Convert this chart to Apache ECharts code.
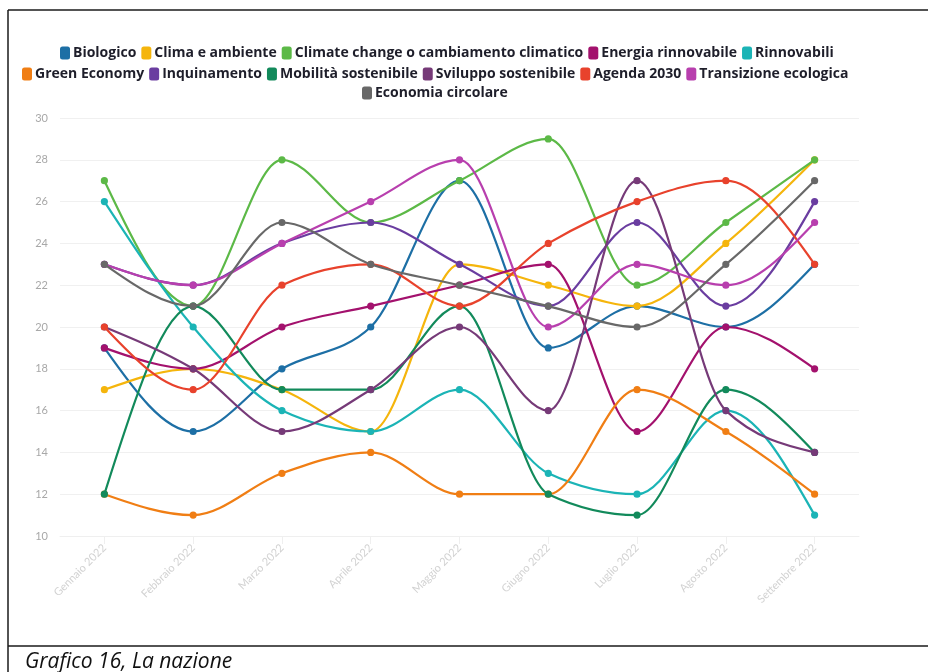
<!DOCTYPE html>
<html>
<head>
<meta charset="utf-8">
<script src="https://cdn.jsdelivr.net/npm/echarts@6/dist/echarts.min.js"></script>
<style>
  html, body { margin: 0; padding: 0; background: #fff; }
  #chart { width: 928px; height: 672px; }
</style>
</head>
<body>
<div id="chart"></div>
<script>
// Months on the x axis
const months = ['Gennaio 2022', 'Febbraio 2022', 'Marzo 2022', 'Aprile 2022', 'Maggio 2022',
  'Giugno 2022', 'Luglio 2022', 'Agosto 2022', 'Settembre 2022'];

// Monthly values per keyword
const biologico = [19, 15, 18, 20, 27, 19, 21, 20, 23];
const climaAmbiente = [17, 18, 17, 15, 23, 22, 21, 24, 28];
const climateChange = [27, 21, 28, 25, 27, 29, 22, 25, 28];
const energiaRinnovabile = [19, 18, 20, 21, 22, 23, 15, 20, 18];
const rinnovabili = [26, 20, 16, 15, 17, 13, 12, 16, 11];
const greenEconomy = [12, 11, 13, 14, 12, 12, 17, 15, 12];
const inquinamento = [23, 22, 24, 25, 23, 21, 25, 21, 26];
const mobilita = [12, 21, 17, 17, 21, 12, 11, 17, 14];
const sviluppo = [20, 18, 15, 17, 20, 16, 27, 16, 14];
const agenda2030 = [20, 17, 22, 23, 21, 24, 26, 27, 23];
const transizione = [23, 22, 24, 26, 28, 20, 23, 22, 25];
const economiaCircolare = [23, 21, 25, 23, 22, 21, 20, 23, 27];

// Y axis ticks
const yMin = 10, yMax = 30, yStep = 2;

const seriesDefs = [
  { name: 'Biologico', values: biologico, color: '#1d6fa5' },
  { name: 'Clima e ambiente', values: climaAmbiente, color: '#f5b50c' },
  { name: 'Climate change o cambiamento climatico', values: climateChange, color: '#5cb947' },
  { name: 'Energia rinnovabile', values: energiaRinnovabile, color: '#a3116d' },
  { name: 'Rinnovabili', values: rinnovabili, color: '#1bb4b6' },
  { name: 'Green Economy', values: greenEconomy, color: '#f07e14' },
  { name: 'Inquinamento', values: inquinamento, color: '#6a3da0' },
  { name: 'Mobilità sostenibile', values: mobilita, color: '#128a5b' },
  { name: 'Sviluppo sostenibile', values: sviluppo, color: '#763a78' },
  { name: 'Agenda 2030', values: agenda2030, color: '#e8422c' },
  { name: 'Transizione ecologica', values: transizione, color: '#b83fae' },
  { name: 'Economia circolare', values: economiaCircolare, color: '#686868' }
];

// Monotone cubic tangents in pixel space (no overshoot, flat between equal values)
function monotoneTangents(pts) {
  const n = pts.length;
  const t = new Array(n).fill(0);
  const sign = v => (v > 0 ? 1 : v < 0 ? -1 : 0);
  for (let i = 1; i < n - 1; i++) {
    const h0 = pts[i][0] - pts[i - 1][0];
    const h1 = pts[i + 1][0] - pts[i][0];
    const s0 = (pts[i][1] - pts[i - 1][1]) / h0;
    const s1 = (pts[i + 1][1] - pts[i][1]) / h1;
    const p = (s0 * h1 + s1 * h0) / (h0 + h1);
    t[i] = (sign(s0) + sign(s1)) * Math.min(Math.abs(s0), Math.abs(s1), 0.5 * Math.abs(p)) || 0;
  }
  if (n > 2) {
    const hA = pts[1][0] - pts[0][0];
    t[0] = (3 * (pts[1][1] - pts[0][1]) / hA - t[1]) / 2;
    const hB = pts[n - 1][0] - pts[n - 2][0];
    t[n - 1] = (3 * (pts[n - 1][1] - pts[n - 2][1]) / hB - t[n - 2]) / 2;
  }
  return t;
}

function makeSeries(def) {
  return {
    name: def.name,
    type: 'custom',
    coordinateSystem: 'cartesian2d',
    itemStyle: { color: def.color },
    encode: { x: 0, y: 1 },
    data: def.values.map((v, i) => [i, v]),
    renderItem: function (params, api) {
      const i = params.dataIndex;
      const pts = def.values.map((v, k) => api.coord([k, v]));
      const tan = monotoneTangents(pts);
      const children = [];
      if (i < pts.length - 1) {
        const p0 = pts[i], p1 = pts[i + 1];
        const dx = (p1[0] - p0[0]) / 3;
        children.push({
          type: 'bezierCurve',
          shape: {
            x1: p0[0], y1: p0[1],
            cpx1: p0[0] + dx, cpy1: p0[1] + dx * tan[i],
            cpx2: p1[0] - dx, cpy2: p1[1] - dx * tan[i + 1],
            x2: p1[0], y2: p1[1]
          },
          style: { stroke: def.color, fill: null, lineWidth: 2.2, lineCap: 'round' }
        });
      }
      children.push({
        type: 'circle',
        shape: { cx: pts[i][0], cy: pts[i][1], r: 3.6 },
        style: { fill: def.color, stroke: null }
      });
      return { type: 'group', children: children };
    }
  };
}

// Legend split over three rows
const legendRows = [
  seriesDefs.slice(0, 5).map(d => d.name),
  seriesDefs.slice(5, 11).map(d => d.name),
  seriesDefs.slice(11).map(d => d.name)
];
const legendTops = [41, 62, 81];
const legendLefts = [55, 17, 357];

const legendBase = {
  orient: 'horizontal',
  icon: 'roundRect',
  itemWidth: 10,
  itemHeight: 13,
  itemGap: 5,
  selectedMode: false,
  textStyle: { color: '#1e1e2a', fontWeight: 'bold', fontSize: 14, fontFamily: 'Open Sans', padding: [0, 0, 0, -2] }
};

const chart = echarts.init(document.getElementById('chart'), null, { renderer: 'canvas' });
chart.setOption({
  animation: false,
  backgroundColor: '#ffffff',
  color: seriesDefs.map(d => d.color),
  legend: legendRows.map((row, r) => Object.assign({}, legendBase, {
    data: row, top: legendTops[r], left: legendLefts[r]
  })),
  grid: { left: 60, right: 69, top: 118, bottom: 136, containLabel: false },
  xAxis: {
    type: 'category',
    data: months,
    boundaryGap: true,
    axisLine: { show: true, lineStyle: { color: '#efefef' } },
    axisTick: { show: true, alignWithLabel: true, length: 8, lineStyle: { color: '#efefef' } },
    axisLabel: { rotate: 45, color: '#d2d2d2', fontSize: 11, fontFamily: 'Lato', margin: 10 },
    splitLine: { show: false }
  },
  yAxis: {
    type: 'value',
    min: yMin, max: yMax, interval: yStep,
    axisLine: { show: false },
    axisTick: { show: false },
    axisLabel: { color: '#a8a8a8', fontSize: 11, fontFamily: 'Lato', margin: 12 },
    splitLine: { lineStyle: { color: '#f0f0f0', width: 1 } }
  },
  graphic: [
    { type: 'line', shape: { x1: 8, y1: 10, x2: 928, y2: 10 }, style: { stroke: '#1a1a1a', lineWidth: 1.5 } },
    { type: 'line', shape: { x1: 8, y1: 10, x2: 8, y2: 672 }, style: { stroke: '#1a1a1a', lineWidth: 1.5 } },
    { type: 'line', shape: { x1: 8, y1: 646, x2: 928, y2: 646 }, style: { stroke: '#1a1a1a', lineWidth: 1.5 } },
    { type: 'text', left: 25, top: 652, style: { text: 'Grafico 16, La nazione', fill: '#111', font: 'italic 21px "Open Sans"' } }
  ],
  series: seriesDefs.map(makeSeries)
});
</script>
</body>
</html>
